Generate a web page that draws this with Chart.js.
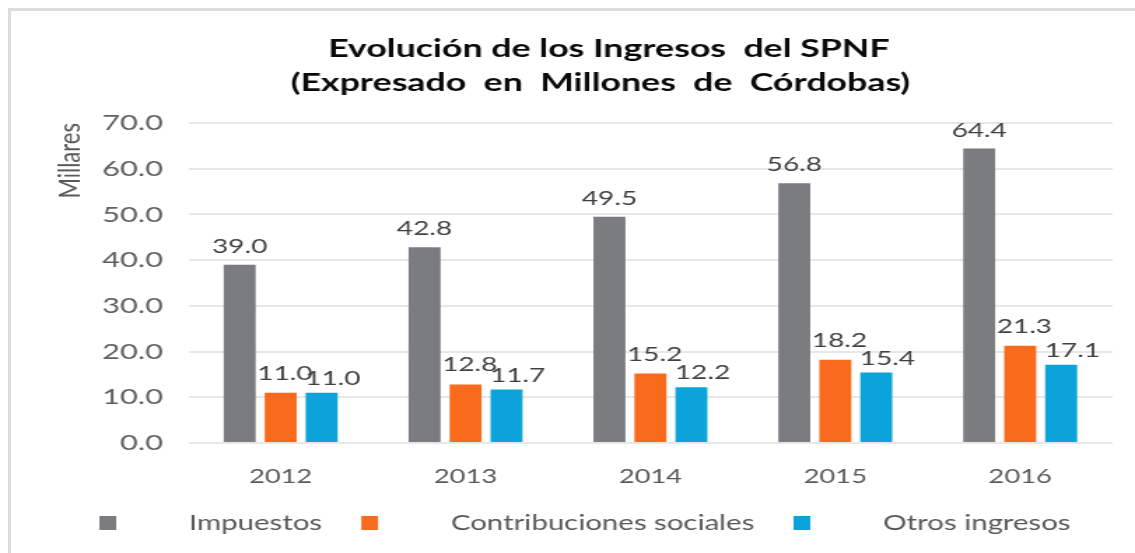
<!DOCTYPE html>
<html>
<head>
<meta charset="utf-8">
<script src="https://cdn.jsdelivr.net/npm/chart.js@4.4.1/dist/chart.umd.min.js"></script>
<style>
  html, body { margin: 0; padding: 0; background: #fff; overflow: hidden; }
  #frame { position: absolute; left: 8px; top: 8px; width: 1200px; height: 600px;
           border-left: 3px solid #dcdcdc; border-top: 3px solid #dcdcdc; }
  /* the source picture is stretched sideways, so the canvas is too */
  #wrap { position: absolute; left: 0; top: 0; width: 811px; height: 553px;
          transform: scaleX(1.3995); transform-origin: 0 0; }
</style>
</head>
<body>
<div id="frame"></div>
<div id="wrap"><canvas id="chart" width="811" height="553"></canvas></div>
<script>
'use strict';

var years = ['2012', '2013', '2014', '2015', '2016'];
var impuestos = [39.0, 42.8, 49.5, 56.8, 64.4];
var contribuciones = [11.0, 12.8, 15.2, 18.2, 21.3];
var otros = [11.0, 11.7, 12.2, 15.4, 17.1];
var seriesNames = ['Impuestos', 'Contribuciones sociales', 'Otros ingresos'];
var seriesColors = ['#7b7c80', '#f86b1d', '#0ba3da'];
var titleLines = ['Evolución de los Ingresos  del SPNF', '(Expresado  en  Millones  de  Córdobas)'];
var yTitle = 'Millares';

var font = 'Lato';

// chart title, two centred lines
var titlePlugin = {
  id: 'titleLines',
  afterDraw: function (chart) {
    var ctx = chart.ctx;
    ctx.save();
    ctx.font = 'bold 25.5px ' + font;
    ctx.fillStyle = '#0a0a0a';
    ctx.textAlign = 'center';
    ctx.textBaseline = 'alphabetic';
    ctx.fillText(titleLines[0], 435, 57);
    ctx.fillText(titleLines[1], 429, 91);
    ctx.restore();
  }
};

// value labels above every bar
var valuePlugin = {
  id: 'values',
  afterDatasetsDraw: function (chart) {
    var ctx = chart.ctx;
    var dx = [0, 3, 8], dy = [12, 13, 8];
    ctx.save();
    ctx.font = '20px ' + font;
    ctx.fillStyle = '#404040';
    ctx.textAlign = 'center';
    ctx.textBaseline = 'alphabetic';
    chart.data.datasets.forEach(function (ds, i) {
      chart.getDatasetMeta(i).data.forEach(function (bar, j) {
        ctx.fillText(ds.data[j].toFixed(1), bar.x + dx[i], bar.y - dy[i]);
      });
    });
    ctx.restore();
  }
};

// legend with wide gaps between the box and its text
var legendPlugin = {
  id: 'wideLegend',
  afterDraw: function (chart) {
    var ctx = chart.ctx;
    var x = 71, y = 523;
    ctx.save();
    ctx.font = '21px ' + font;
    ctx.textBaseline = 'middle';
    ctx.textAlign = 'left';
    chart.data.datasets.forEach(function (ds) {
      ctx.fillStyle = ds.backgroundColor;
      ctx.fillRect(x, y - 7, 12, 14);
      x += 12 + 52;
      ctx.fillStyle = '#595959';
      ctx.fillText(ds.label, x, y);
      x += ctx.measureText(ds.label).width + 28;
    });
    ctx.restore();
  }
};

var makeDataset = function (i, data) {
  return {
    label: seriesNames[i], data: data,
    backgroundColor: seriesColors[i],
    barPercentage: 0.78, categoryPercentage: 0.665
  };
};

new Chart(document.querySelector('#chart'), {
  type: 'bar',
  data: {
    labels: years,
    datasets: [makeDataset(0, impuestos), makeDataset(1, contribuciones), makeDataset(2, otros)]
  },
  options: {
    responsive: false,
    animation: false,
    layout: { padding: { top: 123, right: 16, bottom: 0, left: 0 } },
    plugins: { legend: { display: false }, tooltip: { enabled: false }, title: { display: false } },
    scales: {
      x: {
        grid: { display: false, drawTicks: false },
        border: { display: false },
        ticks: { font: { family: font, size: 19.5 }, color: '#595959', padding: 22 },
        afterFit: function (s) { s.height = 110; }
      },
      y: {
        min: 0, max: 70,
        grid: { color: '#e7e7e7', lineWidth: 2, drawTicks: false },
        border: { display: false },
        ticks: {
          stepSize: 10, padding: 18, color: '#5f5f5f',
          font: { family: font, size: 22 },
          callback: function (v) { return v.toFixed(1); }
        },
        title: {
          display: true, text: yTitle, align: 'end', color: '#595959',
          font: { family: font, size: 22 }, padding: { top: 37, bottom: 0 }
        },
        afterFit: function (s) { s.width = 134.5; }
      }
    }
  },
  plugins: [titlePlugin, valuePlugin, legendPlugin]
});
</script>
</body>
</html>
